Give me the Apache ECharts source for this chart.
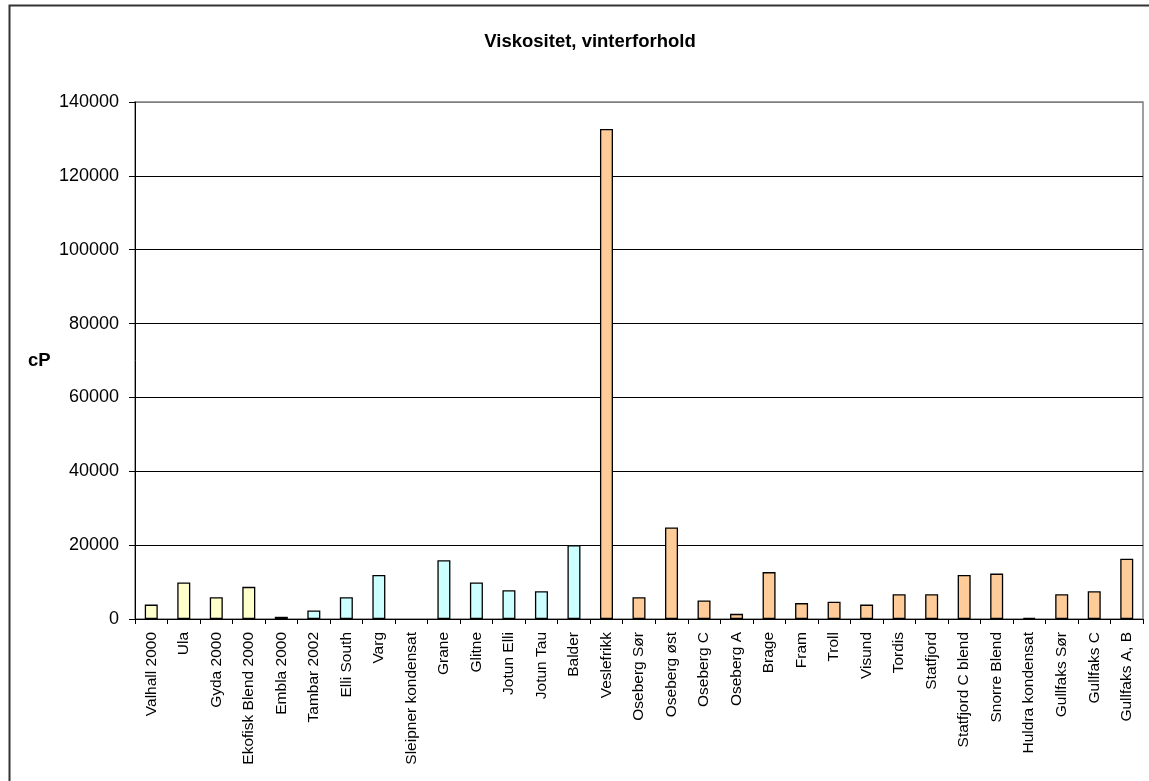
<!DOCTYPE html>
<html>
<head>
<meta charset="utf-8">
<script src="https://cdn.jsdelivr.net/npm/echarts@6/dist/echarts.min.js"></script>
<style>
  html, body { margin: 0; padding: 0; background: #fff; }
  #main { width: 1149px; height: 781px; }
</style>
</head>
<body>
<div id="main"></div>
<script>
// felt / olje
var fields = ['Valhall 2000', 'Ula', 'Gyda 2000', 'Ekofisk Blend 2000', 'Embla 2000',
  'Tambar 2002', 'Elli South', 'Varg', 'Sleipner kondensat', 'Grane', 'Glitne',
  'Jotun Elli', 'Jotun Tau', 'Balder', 'Veslefrikk', 'Oseberg Sør', 'Oseberg øst',
  'Oseberg C', 'Oseberg A', 'Brage', 'Fram', 'Troll', 'Visund', 'Tordis', 'Statfjord',
  'Statfjord C blend', 'Snorre Blend', 'Huldra kondensat', 'Gullfaks Sør', 'Gullfaks C',
  'Gullfaks A, B'];
// viskositet cP (Sleipner kondensat: ingen verdi)
var viscosity = [3900, 9900, 5900, 8700, 600,
  2300, 5900, 11900, null, 15900, 9900,
  7800, 7500, 20000, 132700, 5900, 24800,
  5000, 1400, 12700, 4300, 4700, 3900, 6700, 6700,
  11900, 12300, 300, 6700, 7500,
  16300];
var yTicks = [0, 20000, 40000, 60000, 80000, 100000, 120000, 140000];

// fargegrupper: 0-4 gul, 5-13 turkis, resten oransje
var groupEnds = [5, 14];
var groupColors = ['#FFFFCC', '#CCFFFF', '#FFCC99'];

function barColor(i) {
  if (i < groupEnds[0]) return groupColors[0];
  if (i < groupEnds[1]) return groupColors[1];
  return groupColors[2];
}

// øverste gridlinje er grå (rammen), resten svarte
var gridColors = yTicks.map(function (t, i) {
  return i === yTicks.length - 1 ? '#808080' : '#000';
});

var FONT = 'Liberation Sans, Arial, sans-serif';

var chart = echarts.init(document.getElementById('main'));
chart.setOption({
  animation: false,
  textStyle: { fontFamily: FONT },
  title: {
    text: 'Viskositet, vinterforhold',
    left: 585,
    top: 27,
    textAlign: 'center',
    textStyle: { fontSize: 18.5, fontWeight: 'bold', color: '#000', fontFamily: FONT }
  },
  graphic: [
    { type: 'rect', shape: { x: 9.5, y: 5.5, width: 1300, height: 900 },
      style: { fill: 'none', stroke: '#333', lineWidth: 2 }, silent: true },
    { type: 'text', left: 28, top: 351,
      style: { text: 'cP', font: 'bold 18.5px ' + FONT, fill: '#000' } }
  ],
  grid: {
    left: 135, right: 6, top: 102, bottom: 162,
    show: true, borderColor: '#808080', borderWidth: 1.5
  },
  xAxis: {
    type: 'category',
    data: fields,
    axisLine: { lineStyle: { color: '#000' } },
    axisTick: { show: true, length: 5, interval: 0, lineStyle: { color: '#000' } },
    axisLabel: { interval: 0, rotate: 90, fontSize: 15.5, color: '#000', margin: 13, fontFamily: FONT }
  },
  yAxis: {
    type: 'value',
    min: yTicks[0],
    max: yTicks[yTicks.length - 1],
    interval: yTicks[1] - yTicks[0],
    axisLine: { show: true, lineStyle: { color: '#000' } },
    axisTick: { show: true, length: 6, lineStyle: { color: '#000' } },
    axisLabel: {
      fontSize: 18, color: '#000', margin: 16, fontFamily: FONT,
      formatter: function (v) { return String(v); }
    },
    splitLine: { lineStyle: { color: gridColors, width: 1 } }
  },
  series: [{
    type: 'bar',
    barWidth: 13,
    data: viscosity.map(function (v, i) {
      return { value: v == null ? '-' : v, itemStyle: { color: barColor(i) } };
    }),
    itemStyle: { borderColor: '#000', borderWidth: 1.3 }
  }]
});
</script>
</body>
</html>
